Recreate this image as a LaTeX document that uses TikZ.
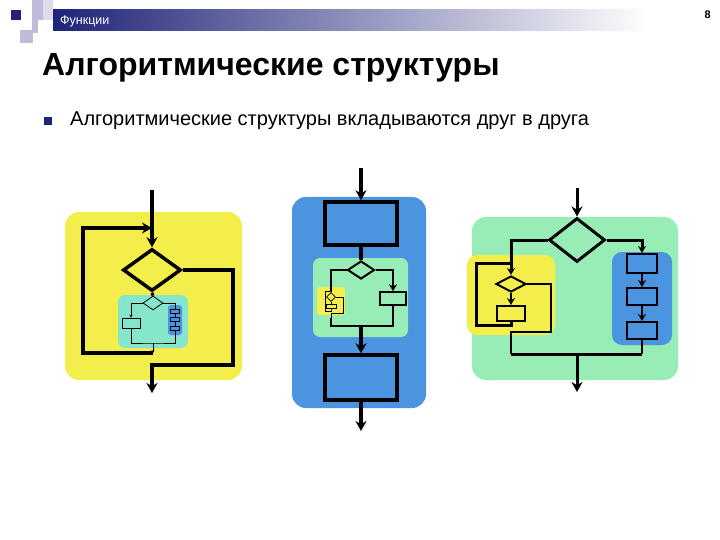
\documentclass[tikz,border=0pt]{standalone}
\usepackage{fontspec}
\setmainfont{Liberation Sans}
\definecolor{slnavy}{HTML}{1E2478}
\definecolor{sllav}{HTML}{BDBDD9}
\definecolor{sllavl}{HTML}{DCDCEC}
\definecolor{fcyellow}{HTML}{F4EE4C}
\definecolor{fcgreen}{HTML}{98ECB6}
\definecolor{fccyan}{HTML}{86E6CC}
\definecolor{fcblue}{HTML}{4A94E0}
\usetikzlibrary{shapes.geometric,arrows.meta,positioning,calc}

\begin{document}
\begin{tikzpicture}[x=1pt, y=-1pt,
  panel/.style={rounded corners=14pt, inner sep=0pt, draw=none},
  subpanel/.style={rounded corners=7pt, inner sep=0pt, draw=none},
  blk/.style={draw=black, inner sep=0pt, line width=#1},
  blk/.default=3.5pt,
  dia/.style={diamond, draw=black, inner sep=0pt, line width=#1},
  dia/.default=3.5pt,
  arr/.style={-{Stealth[length=10pt, width=11pt]}},
  marr/.style={-{Stealth[length=7pt, width=8pt]}},
  sarr/.style={-{Stealth[length=3pt, width=3pt]}}
]
  \useasboundingbox (0,0) rectangle (720,540);

  % Slide header
  \fill[sllav] (32,0) rectangle (43,20);
  \fill[sllavl] (43,0) rectangle (53,20);
  \fill[sllav] (32,20) rectangle (38,33);
  \fill[sllav] (20,30) rectangle (33,43);
  \fill[slnavy] (11,10) rectangle (21,20);
  \shade[left color=slnavy, right color=white] (53,10) rectangle (650,31);
  \node[anchor=west, text=white, font=\fontsize{12.5}{14}\selectfont, inner sep=0pt] (hdr) at (60,21) {Функции};
  \node[anchor=east, font=\bfseries\fontsize{11}{13}\selectfont, inner sep=0pt] (pgno) at (711,15) {8};

  % Title and bullet
  \node[anchor=base west, font=\bfseries\fontsize{32}{38}\selectfont, inner sep=0pt] (title) at (42,76) {Алгоритмические структуры};
  \node[fill=slnavy, minimum size=8pt, inner sep=0pt] (bul) at (48,121) {};
  \node[anchor=west, font=\fontsize{20}{24}\selectfont, inner sep=0pt] (item) at (70,121) {Алгоритмические структуры вкладываются друг в друга};

  % Loop (yellow)
  \node[panel, fill=fcyellow, minimum width=177pt, minimum height=168pt] (yel1) at (153.5,296) {};
  \node[subpanel, fill=fccyan, minimum width=70pt, minimum height=53pt] (cya1) at (153,321.5) {};
  \node[subpanel, rounded corners=3pt, fill=fcblue, minimum width=14pt, minimum height=30pt] (blu1) at (175,320) {};
  \node[dia, minimum width=58pt, minimum height=42pt] (d1) at (152,270) {};
  \node[dia=0.8pt, minimum width=20pt, minimum height=14pt] (d1i) at (153,303) {};
  \node[blk=0.8pt, minimum width=18pt, minimum height=10pt] (r1a) at (131,323) {};
  \node[blk=0.6pt, minimum width=9pt, minimum height=4pt] (r1b) at (175,311) {};
  \node[blk=0.6pt, minimum width=9pt, minimum height=4pt] (r1c) at (175,319.5) {};
  \node[blk=0.6pt, minimum width=9pt, minimum height=4pt] (r1d) at (175,328) {};
  \coordinate (in1) at (152,190);
  \coordinate (j1) at (153,343);
  \coordinate (k1) at (153,353);
  \coordinate (lp1) at (83,228);
  \coordinate (ex1) at (233,365);
  \coordinate (out1) at (152,393);
  \draw[arr, line width=3.5pt] (in1) -- (d1.north);
  \draw[line width=3pt] (d1.south) -- (d1i.north);
  \draw[sarr, line width=0.8pt] (d1i.west) -| (r1a.north);
  \draw[line width=0.8pt] (d1i.east) -| (r1b.north);
  \draw[line width=0.6pt] (r1b) -- (r1c) (r1c) -- (r1d);
  \draw[line width=0.8pt] (r1a.south) |- (j1) -| (r1d.south);
  \draw[sarr, line width=0.8pt] (j1) -- (k1);
  \draw[arr, line width=3.5pt] (k1) -| (lp1) -- (lp1 -| in1);
  \draw[arr, line width=3.5pt] (d1.east) -| (ex1) -- (ex1 -| out1) -- (out1);

  % Sequence (blue)
  \node[panel, fill=fcblue, minimum width=134pt, minimum height=211pt] (blu2) at (359,302.5) {};
  \node[subpanel, fill=fcgreen, minimum width=95pt, minimum height=79pt] (grn2) at (360.5,297.5) {};
  \node[subpanel, rounded corners=3pt, fill=fcyellow, minimum width=28pt, minimum height=28pt] (yel2) at (331,301) {};
  \node[blk, minimum width=72pt, minimum height=43pt] (b2t) at (361,223.5) {};
  \node[blk, minimum width=72pt, minimum height=45pt] (b2b) at (361,377.5) {};
  \node[dia=2pt, minimum width=27pt, minimum height=18pt] (d2) at (361,270) {};
  \node[blk=1.5pt, minimum width=26pt, minimum height=13pt] (r2) at (393,298.5) {};
  \node[dia=0.6pt, minimum width=9pt, minimum height=9pt] (d2i) at (331,297) {};
  \node[blk=0.6pt, minimum width=10pt, minimum height=4pt] (r2i) at (331,306) {};
  \coordinate (in2) at (361,168);
  \coordinate (j2) at (361,326);
  \coordinate (lp2) at (325,311);
  \coordinate (ex2) at (343,313);
  \coordinate (out2) at (361,431);
  \draw[arr, line width=3.5pt] (in2) -- (b2t.north);
  \draw[line width=3.5pt] (b2t.south) -- (d2.north);
  \draw[line width=2pt] (d2.west) -| (d2i.north);
  \draw[line width=0.6pt] (d2i.south) -- (r2i.north);
  \draw[line width=0.6pt] (r2i.south) |- (lp2) |- (331,291);
  \draw[line width=0.6pt] (d2i.east) -| (ex2) -| (331,318);
  \draw[marr, line width=2pt] (d2.east) -| (r2.north);
  \draw[line width=2pt] (331,318) |- (j2) -| (r2.south);
  \draw[arr, line width=3.5pt] (j2) -- (b2b.north);
  \draw[arr, line width=3.5pt] (b2b.south) -- (out2);

  % Branching (green)
  \node[panel, fill=fcgreen, minimum width=206pt, minimum height=163pt] (grn3) at (575,298.5) {};
  \node[subpanel, rounded corners=10pt, fill=fcyellow, minimum width=88pt, minimum height=80pt] (yel3) at (511,295) {};
  \node[subpanel, rounded corners=10pt, fill=fcblue, minimum width=60pt, minimum height=93pt] (blu3) at (642,298.5) {};
  \node[dia=3pt, minimum width=56pt, minimum height=44pt] (d3) at (577,240) {};
  \node[dia=2pt, minimum width=30pt, minimum height=16pt] (d3i) at (511,284) {};
  \node[blk=2pt, minimum width=28pt, minimum height=15pt] (r3i) at (511,313.5) {};
  \node[blk=2pt, minimum width=30pt, minimum height=19pt] (b3a) at (642,263.5) {};
  \node[blk=2pt, minimum width=30pt, minimum height=17pt] (b3b) at (642,296.5) {};
  \node[blk=2pt, minimum width=30pt, minimum height=17pt] (b3c) at (642,330.5) {};
  \coordinate (in3) at (577,188);
  \coordinate (lp3) at (476,325);
  \coordinate (lt3) at (511,263);
  \coordinate (ex3) at (551,332);
  \coordinate (m3l) at (511,354);
  \coordinate (m3r) at (642,354);
  \coordinate (out3) at (577,392);
  \draw[arr, line width=3pt] (in3) -- (d3.north);
  \draw[marr, line width=3pt] (d3.west) -| (d3i.north);
  \draw[marr, line width=2pt] (d3i.south) -- (r3i.north);
  \draw[line width=3pt] (r3i.south) |- (lp3) |- (lt3);
  \draw[line width=2pt] (d3i.east) -| (ex3) -| (m3l);
  \draw[marr, line width=3pt] (d3.east) -| (b3a.north);
  \draw[marr, line width=2pt] (b3a) -- (b3b);
  \draw[marr, line width=2pt] (b3b) -- (b3c);
  \draw[line width=2pt] (b3c.south) -- (m3r);
  \draw[line width=3pt] (m3l) -- (m3r);
  \draw[arr, line width=3pt] (m3l -| out3) -- (out3);
\end{tikzpicture}
\end{document}
